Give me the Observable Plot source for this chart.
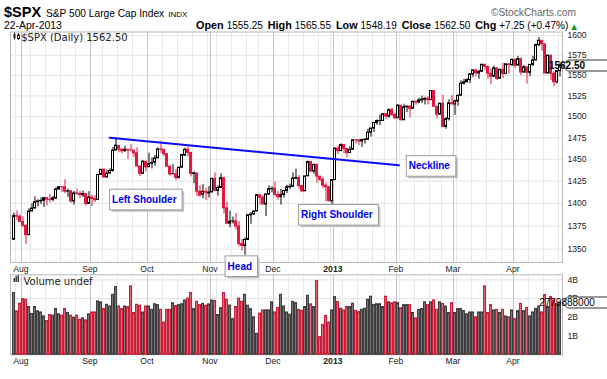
<!DOCTYPE html>
<html><head><meta charset="utf-8">
<script src="https://cdn.jsdelivr.net/npm/d3@7"></script>
<script src="https://cdn.jsdelivr.net/npm/@observablehq/plot@0.6"></script>
<style>
body{margin:0;background:#fff;}
#chart{position:relative;width:607px;height:379px;overflow:hidden;font-family:"Liberation Sans",Arial,sans-serif;background:#fff;}
</style></head><body><div id="chart"></div>
<script>
// ---------- data ----------
const symbol = "$SPX";
const indexName = "S&P 500 Large Cap Index";
const exchange = "INDX";
const firstDay = "2012-07-27", lastDay = "2013-04-22";
const holidays = ["2012-09-03","2012-10-29","2012-10-30","2012-11-22","2012-12-25","2013-01-01","2013-01-21","2013-02-18","2013-03-29"];

const opens = [1360.05,1385.97,1385.30,1379.32,1375.32,1365.00,1390.99,1394.23,1401.35,1402.22,
1402.80,1405.87,1404.11,1403.93,1405.53,1415.51,1418.16,1418.13,1413.17,1413.49,
1402.08,1411.13,1410.44,1409.30,1410.49,1399.48,1406.54,1404.94,1403.74,1432.12,
1437.92,1429.13,1433.56,1436.56,1460.07,1465.42,1461.19,1459.50,1461.05,1460.34,
1459.76,1456.94,1441.60,1433.36,1447.13,1440.90,1444.99,1446.05,1451.08,1461.40,
1460.93,1455.90,1441.48,1432.82,1432.84,1428.75,1440.31,1454.22,1460.94,1457.34,
1433.21,1433.74,1413.20,1409.74,1412.97,1410.99,1412.20,1427.59,1414.02,1417.26,
1428.27,1394.53,1377.55,1379.86,1380.03,1374.64,1355.41,1353.36,1359.88,1386.82,
1387.79,1391.03,1409.15,1406.29,1398.77,1409.96,1415.95,1416.34,1409.46,1407.05,
1409.43,1413.95,1418.07,1418.55,1427.84,1428.48,1419.45,1413.54,1430.47,1446.79,
1435.81,1443.67,1430.15,1426.66,1419.83,1418.10,1402.43,1426.19,1462.42,1459.37,
1466.47,1461.89,1457.15,1461.02,1472.12,1472.05,1470.67,1472.33,1472.63,1480.95,
1485.98,1492.56,1494.81,1494.82,1502.96,1500.18,1507.84,1501.96,1498.11,1513.17,
1495.71,1511.29,1512.12,1509.39,1517.93,1517.01,1519.43,1520.33,1521.38,1519.79,
1530.94,1511.95,1502.42,1515.60,1487.85,1496.94,1515.99,1514.68,1518.20,1525.20,
1539.79,1541.46,1544.26,1551.15,1556.22,1552.48,1554.52,1563.21,1560.70,1552.10,
1548.34,1558.71,1545.90,1556.89,1551.69,1563.75,1562.86,1569.18,1562.17,1570.25,
1553.69,1559.98,1553.26,1563.11,1568.61,1587.73,1593.30,1588.84,1552.36,1574.57,
1552.03,1541.61,1555.25];

const highs = [1389.19,1391.74,1387.16,1385.03,1375.32,1394.16,1399.63,1407.14,1404.14,1405.95,
1405.98,1405.87,1410.03,1407.73,1417.44,1418.71,1418.16,1426.68,1416.12,1413.49,
1413.46,1416.17,1413.63,1413.95,1410.49,1413.09,1409.31,1408.81,1432.12,1437.92,
1438.74,1437.76,1439.15,1463.76,1474.51,1465.63,1461.47,1465.15,1461.23,1467.07,
1460.72,1463.24,1441.60,1448.52,1447.13,1457.14,1451.52,1454.30,1463.14,1470.96,
1460.93,1455.90,1442.52,1443.90,1438.43,1441.31,1455.51,1462.76,1464.02,1457.34,
1435.46,1433.74,1420.04,1421.12,1417.09,1418.76,1428.35,1434.27,1419.90,1433.38,
1428.27,1401.23,1391.39,1384.87,1388.81,1380.13,1360.62,1362.03,1386.89,1389.77,
1391.25,1409.16,1409.15,1409.01,1410.31,1419.70,1418.86,1423.73,1413.14,1415.56,
1413.95,1420.34,1421.64,1434.27,1438.59,1431.36,1419.45,1430.67,1448.00,1447.75,
1443.70,1443.67,1430.15,1429.42,1422.80,1418.10,1426.74,1462.43,1465.47,1467.94,
1466.47,1461.89,1464.73,1472.30,1472.75,1472.05,1473.31,1473.96,1485.16,1485.98,
1492.56,1496.13,1502.27,1503.26,1503.23,1509.35,1509.94,1504.19,1514.41,1513.17,
1514.96,1512.53,1512.90,1518.31,1518.31,1522.29,1524.69,1523.14,1524.24,1530.94,
1530.94,1511.95,1515.64,1525.84,1498.99,1520.08,1525.34,1519.99,1525.27,1543.47,
1545.25,1545.78,1552.48,1556.27,1556.77,1556.39,1563.32,1563.62,1560.70,1557.25,
1561.56,1558.71,1557.74,1564.91,1563.95,1564.07,1570.28,1570.57,1573.66,1571.47,
1562.30,1559.98,1563.07,1573.89,1589.07,1597.35,1593.30,1588.84,1575.35,1574.57,
1554.38,1555.89,1565.55];

const lows = [1360.05,1381.37,1379.17,1373.35,1354.65,1365.00,1390.99,1394.23,1396.13,1398.80,
1395.62,1397.32,1400.60,1401.83,1404.15,1414.67,1412.12,1410.86,1406.78,1400.50,
1398.04,1409.11,1405.59,1406.57,1397.01,1398.96,1396.56,1401.25,1403.74,1431.45,
1428.98,1429.13,1432.99,1435.34,1460.07,1457.55,1456.13,1457.88,1449.98,1459.51,
1452.06,1441.59,1430.53,1433.36,1435.60,1440.90,1439.01,1441.99,1451.08,1456.89,
1453.10,1441.18,1430.64,1432.82,1425.53,1427.24,1440.31,1453.35,1452.63,1429.85,
1422.06,1407.56,1407.10,1405.14,1403.28,1405.95,1412.20,1412.91,1408.13,1417.26,
1388.14,1377.51,1373.03,1377.19,1370.78,1352.50,1348.05,1343.35,1359.88,1377.04,
1386.39,1391.03,1397.68,1398.03,1385.43,1409.04,1411.63,1408.46,1403.65,1398.23,
1405.93,1410.90,1415.64,1418.55,1426.76,1416.00,1411.88,1413.54,1430.47,1435.80,
1432.82,1422.58,1424.66,1416.43,1401.80,1401.58,1398.11,1426.19,1455.53,1458.99,
1456.62,1451.64,1457.15,1461.02,1467.58,1465.69,1463.76,1467.60,1472.63,1475.81,
1481.16,1489.90,1489.46,1494.82,1496.33,1498.09,1500.11,1496.76,1498.11,1495.02,
1495.71,1504.71,1498.49,1509.39,1513.61,1515.61,1515.93,1514.02,1514.14,1519.79,
1511.41,1497.29,1502.42,1487.85,1485.01,1494.88,1514.46,1501.48,1512.29,1525.20,
1538.11,1541.46,1539.97,1547.36,1548.24,1545.25,1554.52,1555.74,1545.13,1538.57,
1548.34,1543.55,1545.90,1546.22,1551.69,1551.90,1561.08,1558.47,1562.17,1549.80,
1552.43,1539.50,1548.64,1560.92,1568.61,1586.17,1579.97,1552.28,1552.36,1543.69,
1536.03,1539.40,1548.19];

const closes = [1385.97,1385.30,1379.32,1375.32,1365.00,1390.99,1394.23,1401.35,1402.22,1402.80,
1405.87,1404.11,1403.93,1405.53,1415.51,1418.16,1418.13,1413.17,1413.49,1402.08,
1411.13,1410.44,1409.30,1410.49,1399.48,1406.58,1404.94,1403.44,1432.12,1437.92,
1429.08,1433.56,1436.56,1459.99,1465.77,1461.19,1459.32,1461.05,1460.26,1460.15,
1456.89,1441.59,1433.32,1447.15,1440.67,1444.49,1445.75,1450.99,1461.40,1460.93,
1455.88,1441.48,1432.56,1432.84,1428.59,1440.13,1454.92,1460.91,1457.34,1433.19,
1433.82,1413.11,1408.75,1412.97,1411.94,1412.16,1427.59,1414.20,1417.26,1428.39,
1394.53,1377.51,1379.85,1380.03,1374.53,1355.49,1353.33,1359.88,1386.89,1387.81,
1391.03,1409.15,1406.29,1398.94,1409.93,1415.95,1416.18,1409.46,1407.05,1409.28,
1413.94,1418.07,1418.55,1427.84,1428.48,1419.45,1413.58,1430.36,1446.79,1435.81,
1443.69,1430.15,1426.66,1419.83,1418.10,1402.43,1426.19,1462.42,1459.37,1466.47,
1461.89,1457.15,1461.02,1472.12,1472.05,1470.68,1472.34,1472.63,1480.94,1485.98,
1492.56,1494.81,1494.82,1502.96,1500.18,1507.84,1501.96,1498.11,1513.17,1495.71,
1511.29,1512.12,1509.39,1517.93,1517.01,1519.43,1520.33,1521.38,1519.79,1530.94,
1511.95,1502.42,1515.60,1487.85,1496.94,1515.99,1514.68,1518.20,1525.20,1539.79,
1541.46,1544.26,1551.18,1556.22,1552.48,1554.52,1563.23,1560.70,1552.10,1548.34,
1558.71,1545.80,1556.89,1551.69,1563.77,1562.85,1569.19,1562.17,1570.25,1553.69,
1559.98,1553.28,1563.07,1568.61,1587.73,1593.37,1588.85,1552.36,1574.57,1552.01,
1541.61,1555.25,1562.50];

// volume, billions of shares
const volumes = [3.3,2.32,2.73,2.98,2.94,2.55,2.18,2.55,2.32,2.26,
2.05,1.8,2.12,2.09,2.44,2.16,2.09,2.44,2.23,2.09,
1.98,2.09,1.87,1.94,1.84,2.16,2.26,2.26,2.85,2.8,
2.44,2.67,2.58,3.2,3.62,2.58,2.44,2.58,2.55,3.65,
2.23,2.67,2.62,2.26,2.58,2.58,2.4,2.7,2.65,2.4,
1.72,2.4,2.4,2.75,2.6,2.65,2.7,2.9,3.0,3.3,
2.44,2.83,2.65,2.72,2.62,2.69,2.9,2.87,2.12,2.49,
3.3,2.94,2.63,1.9,2.55,3.0,2.83,3.2,2.62,2.44,
2.0,1.12,2.2,2.37,2.37,2.37,2.8,2.26,2.5,3.2,
2.58,2.26,2.14,2.83,2.76,2.4,2.35,2.55,3.15,2.69,
2.55,3.94,0.94,1.6,2.08,1.72,2.37,3.08,2.82,2.46,
2.37,2.55,2.55,2.73,2.35,2.28,2.4,2.46,2.94,3.1,
2.66,2.7,2.7,2.55,3.1,2.8,2.75,2.8,2.76,2.49,
2.65,2.65,2.65,2.23,1.94,2.4,2.44,2.8,2.65,2.8,
2.9,2.4,2.8,2.72,2.58,2.23,2.76,2.23,2.44,2.44,
2.33,2.16,2.26,2.26,2.0,2.26,2.26,3.65,2.23,2.65,
2.37,2.4,2.23,2.4,2.05,2.0,2.37,1.9,2.33,2.72,
2.33,2.5,2.05,2.26,2.45,2.58,2.26,3.19,2.55,3.08,
2.9,2.72,2.779888];

const priceTicks = [1350,1375,1400,1425,1450,1475,1500,1525,1550,1575,1600];
const volumeTicks = [1,2,3,4];
const volumeTickLabels = ["1B","2B","3B","4B"];

// neckline (trading-day index, price)
const necklineIdx = [31.9, 128.3];
const necklinePrice = [1475, 1443];
// annotations: label, left trading-day index, price at label centre
const noteLabels = ["Left Shoulder","Head","Right Shoulder","Neckline"];
const noteIdx = [32.7, 71.2, 95.7, 131.6];
const notePrice = [1404, 1331.5, 1387, 1442];

// ---------- derived ----------
const parse = d3.utcParse("%Y-%m-%d"), fmtDay = d3.utcFormat("%Y-%m-%d");
const dates = d3.utcDays(parse(firstDay), d3.utcDay.offset(parse(lastDay), 1))
  .filter(d => d.getUTCDay() % 6 !== 0 && !holidays.includes(fmtDay(d)));
const n = closes.length;
const idx = d3.range(n);
const RED = "#e2183f", BLK = "#000";
const rows = idx.map(i => {
  const up = i === 0 ? closes[i] >= opens[i] : closes[i] >= closes[i - 1];
  return {i, o: opens[i], h: highs[i], l: lows[i], c: closes[i], v: volumes[i] * 1e9,
    col: up ? BLK : RED, body: closes[i] > opens[i] ? "#fff" : (up ? BLK : RED),
    vfill: up ? "#777777" : "#e06675", vstroke: up ? "#3e3e3e" : "#c8203a"};
});
const monthStarts = idx.filter(i => i > 0 && dates[i].getUTCMonth() !== dates[i - 1].getUTCMonth());
const weekStarts = idx.filter(i => i > 0 && +d3.utcMonday.floor(dates[i]) !== +d3.utcMonday.floor(dates[i - 1]));
const monthLabel = i => dates[i].getUTCMonth() === 0 ? d3.utcFormat("%Y")(dates[i]) : d3.utcFormat("%b")(dates[i]);
const regMonths = monthStarts.filter(i => dates[i].getUTCMonth() !== 0);
const yearMonths = monthStarts.filter(i => dates[i].getUTCMonth() === 0);

const xScale = {domain: [0, n - 1], range: [13.5, 13.5 + 3 * (n - 1)]};
const axisFont = {fontSize: 8.6, fill: "#222", fontFamily: "Liberation Sans, Arial, sans-serif"};

function gridMarks() {
  return [
    Plot.ruleX(weekStarts, {x: d => d - 0.5, stroke: "#e9e9e9", strokeWidth: 1}),
    Plot.ruleX(monthStarts, {x: d => d - 0.5, stroke: "#c6c6c6", strokeWidth: 1}),
  ];
}
function monthLabelMarks() {
  return [
    Plot.text(regMonths, {x: d => d - 0.7, frameAnchor: "bottom", dy: 6.5, lineAnchor: "middle", text: monthLabel, ...axisFont}),
    Plot.text(yearMonths, {x: d => d - 0.7, frameAnchor: "bottom", dy: 6.5, lineAnchor: "middle", text: monthLabel, ...axisFont, fontWeight: "bold"}),
  ];
}

// ---------- header ----------
const root = d3.select("#chart");
const hdr = root.append("svg").attr("width", 607).attr("height", 31)
  .style("position", "absolute").style("left", "0px").style("top", "0px")
  .attr("font-family", "Liberation Sans, Arial, sans-serif");
hdr.append("text").attr("x", 4).attr("y", 17).attr("font-size", 14.5).attr("font-weight", "bold").text(symbol);
const t1 = hdr.append("text").attr("x", 46).attr("y", 17).attr("font-size", 10.2);
t1.append("tspan").text(indexName);
t1.append("tspan").attr("font-size", 8).attr("dx", 4).text(exchange);
hdr.append("text").attr("x", 576).attr("y", 16).attr("text-anchor", "end").attr("font-size", 10.2).attr("fill", "#666").text("\u00A9StockCharts.com");
hdr.append("text").attr("x", 4).attr("y", 28.5).attr("font-size", 10.4).text(d3.utcFormat("%d-%b-%Y")(dates[n - 1]));
const chg = closes[n - 1] - closes[n - 2];
const pct = chg / closes[n - 2] * 100;
const q = hdr.append("text").attr("x", 577).attr("y", 28.5).attr("font-size", 10).attr("text-anchor", "end");
[["Open", opens[n - 1]], ["High", highs[n - 1]], ["Low", lows[n - 1]], ["Close", closes[n - 1]]].forEach(([k, v], j) => {
  q.append("tspan").attr("font-weight", "bold").attr("font-size", 10.8).attr("dx", j ? 5 : 0).text(k);
  q.append("tspan").attr("dx", 3).text(v.toFixed(2));
});
q.append("tspan").attr("font-weight", "bold").attr("font-size", 10.8).attr("dx", 5).text("Chg");
q.append("tspan").attr("dx", 3).text(`${chg >= 0 ? "+" : ""}${chg.toFixed(2)} (${chg >= 0 ? "+" : ""}${pct.toFixed(2)}%)`);
q.append("tspan").attr("dx", 3).attr("fill", "#1c9a1c").attr("font-size", 7.5).attr("font-family", "DejaVu Sans").text("\u25B2");

// ---------- volume panel ----------
const volPlot = Plot.plot({
  width: 607, height: 100,
  marginLeft: 10, marginRight: 45, marginTop: 2.3, marginBottom: 17.7,
  x: {...xScale, axis: null},
  y: {domain: [0, 4.27e9], axis: null},
  color: {type: "identity"},
  style: {background: "transparent", overflow: "visible", position: "absolute", left: "0px", top: "272px"},
  marks: [
    Plot.ruleY(volumeTicks, {y: d => d * 1e9, stroke: "#e4e4e4"}),
    ...gridMarks(),
    Plot.frame({stroke: "#b8b8b8"}),
    Plot.rect(rows, {x1: d => d.i - 1 / 3, x2: d => d.i + 1 / 3, y1: 0, y2: "v", fill: "vfill", stroke: "vstroke", strokeWidth: 1}),
    Plot.text(volumeTicks, {y: d => d * 1e9, frameAnchor: "right", dx: 5, textAnchor: "start", lineAnchor: "middle",
      text: (d, j) => volumeTickLabels[j], ...axisFont}),
    ...monthLabelMarks(),
    Plot.text(["Volume undef"], {frameAnchor: "top-left", dx: 13, dy: 7, textAnchor: "start", lineAnchor: "middle",
      fontFamily: "DejaVu Sans", fontSize: 10, fill: "#222"}),
  ]
});

// ---------- price panel ----------
const pricePlot = Plot.plot({
  width: 607, height: 246,
  marginLeft: 10, marginRight: 45, marginTop: 3.5, marginBottom: 12,
  x: {...xScale, axis: null},
  y: {type: "log", domain: [1335.7, 1604.5], axis: null},
  color: {type: "identity"},
  style: {background: "transparent", overflow: "visible", position: "absolute", left: "0px", top: "28px"},
  marks: [
    Plot.ruleY(priceTicks, {stroke: "#e4e4e4"}),
    ...gridMarks(),
    Plot.frame({stroke: "#b8b8b8"}),
    Plot.ruleX(rows, {x: "i", y1: "l", y2: "h", stroke: "col", strokeWidth: 1}),
    Plot.rect(rows, {x1: d => d.i - 1 / 3, x2: d => d.i + 1 / 3, y1: "o", y2: "c", fill: "body", stroke: "col", strokeWidth: 1}),
    Plot.line(necklineIdx.map((x, j) => ({x, p: necklinePrice[j]})), {x: "x", y: "p", stroke: "#0a0aff", strokeWidth: 2}),
    Plot.text(priceTicks, {y: d => d, frameAnchor: "right", dx: 5, textAnchor: "start", lineAnchor: "middle", text: d => String(d), ...axisFont}),
    ...monthLabelMarks(),
    Plot.text([`${symbol} (Daily) ${closes[n - 1].toFixed(2)}`], {frameAnchor: "top-left", dx: 10.7, dy: 6, textAnchor: "start", lineAnchor: "middle",
      fontFamily: "DejaVu Sans", fontSize: 10, fill: "#222"}),
    Plot.text(noteLabels.map((t, j) => ({t, x: noteIdx[j], p: notePrice[j]})), {x: "x", y: "p", text: "t",
      textAnchor: "start", lineAnchor: "middle", fontWeight: "bold", fontSize: 10, fill: "#0000ee",
      fontFamily: "Liberation Sans, Arial, sans-serif"}),
  ]
});

root.node().appendChild(volPlot);
root.node().appendChild(pricePlot);

const NS = "http://www.w3.org/2000/svg";
function el(tag, attrs, parent, before) {
  const e = document.createElementNS(NS, tag);
  for (const k in attrs) if (attrs[k] != null) e.setAttribute(k, attrs[k]);
  if (before) parent.insertBefore(e, before); else parent.appendChild(e);
  return e;
}

// annotation boxes (same transform as the text they frame)
Array.from(pricePlot.querySelectorAll("text"))
  .filter(t => noteLabels.includes(t.textContent))
  .forEach(t => {
    const b = t.getBBox();
    const g = t.parentNode;
    const tr = t.getAttribute("transform");
    const x = b.x - 2.5, y = b.y - 4.8, w = b.width + 8, h = b.height + 9.6;
    el("rect", {x: x + 2, y: y + 2, width: w, height: h, fill: "#c4c4c4", stroke: "none", transform: tr}, g, t);
    el("rect", {x, y, width: w, height: h, fill: "#ffffff", stroke: "#9a9a9a", "stroke-width": 1, transform: tr}, g, t);
  });

// legend icons
{
  const s = pricePlot;
  el("line", {x1: 14.5, x2: 14.5, y1: 4.5, y2: 11.5, stroke: "#222"}, s);
  el("rect", {x: 13.5, y: 6, width: 2, height: 4, fill: "#222"}, s);
  el("line", {x1: 18.5, x2: 18.5, y1: 5, y2: 12, stroke: "#222"}, s);
  el("rect", {x: 17.5, y: 7, width: 2, height: 3.5, fill: "#fff", stroke: "#222"}, s);
  const v = volPlot;
  [[13.5, 6, 4], [15.5, 4, 6], [17.5, 3, 7]].forEach(([x, y, h]) => el("rect", {x, y, width: 1.4, height: h, fill: "#333"}, v));
}

// last-value tags
function tag(svg, yv, label, bold) {
  const y = Math.round(yv) + 0.5;
  el("path", {d: `M562.5,${y} L567.5,${y - 5.5} L612,${y - 5.5} L612,${y + 5.5} L567.5,${y + 5.5} Z`, fill: "#fff", stroke: "#333", "stroke-width": 1}, svg);
  const t = el("text", {x: 567, y: y + 3.4, "font-size": 10, "font-weight": bold ? "bold" : "normal", fill: "#000",
    "font-family": "Liberation Sans, Arial, sans-serif"}, svg);
  t.textContent = label;
}
tag(pricePlot, pricePlot.scale("y").apply(closes[n - 1]), closes[n - 1].toFixed(2), true);
tag(volPlot, volPlot.scale("y").apply(volumes[n - 1] * 1e9), String(Math.round(volumes[n - 1] * 1e9)), false);
</script></body></html>
